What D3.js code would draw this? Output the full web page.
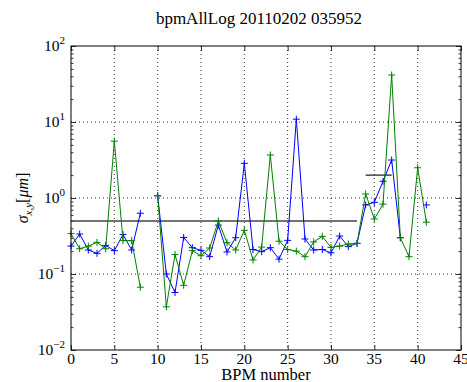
<!DOCTYPE html>
<html>
<head>
<meta charset="utf-8">
<script src="https://cdn.jsdelivr.net/npm/d3@7"></script>
<style>
  body { margin: 0; background: #fff; }
</style>
</head>
<body>
<div id="chart"></div>
<script>
// BPM index 0..41, null where there is no reading
var bpm = d3.range(0, 42);

var sigmaX = [0.233, 0.336, 0.207, 0.187, 0.238, 0.203, 0.33, 0.207, 0.63, null,
  1.07, 0.10, 0.057, 0.303, 0.222, 0.205, 0.169, 0.44, 0.195, 0.30,
  2.86, 0.21, 0.197, 0.222, 0.157, 0.277, 10.9, 0.289, 0.207, 0.21,
  0.19, 0.316, 0.229, 0.253, 0.81, 0.877, 1.66, 3.16, 0.30, null,
  null, 0.81];

var sigmaY = [0.34, 0.215, 0.233, 0.261, 0.215, 5.6, 0.275, 0.275, 0.067, null,
  1.07, 0.037, 0.18, 0.071, 0.203, 0.174, 0.22, 0.50, 0.258, 0.207,
  0.376, 0.153, 0.226, 3.68, 0.27, 0.21, 0.2, 0.169, 0.264, 0.313,
  0.224, 0.233, 0.248, 0.253, 1.13, 0.53, 0.83, 41.5, 0.30, 0.169,
  2.5, 0.48];

// reference levels: [x start, x end, value]
var limits = [[0, 33, 0.5], [34, 37, 2.0]];

var xTicks = d3.range(0, 50, 5);
var yTicks = [-2, -1, 0, 1, 2];

var serif = "'Liberation Serif', 'Times New Roman', 'DejaVu Serif', serif";

var svgWidth = 467;
var svgHeight = 382;
var margin = { top: 46, right: 6, bottom: 32, left: 71 };
var width = svgWidth - margin.left - margin.right;
var height = svgHeight - margin.top - margin.bottom;

var svg = d3.select("#chart").append("svg")
  .attr("width", svgWidth)
  .attr("height", svgHeight)
  .attr("font-family", serif);

var g = svg.append("g")
  .attr("transform", `translate(${margin.left}, ${margin.top})`);

var x = d3.scaleLinear().domain([0, 45]).range([0, width]);
var y = d3.scaleLog().domain([0.01, 100]).range([height, 0]);

// grid
g.append("g").selectAll("line")
  .data(xTicks.slice(1, -1))
  .enter().append("line")
  .attr("x1", d => x(d)).attr("x2", d => x(d))
  .attr("y1", 0).attr("y2", height)
  .attr("stroke", "#000").attr("stroke-width", 0.8)
  .attr("stroke-dasharray", "1,3");

g.append("g").selectAll("line")
  .data(yTicks.slice(1, -1))
  .enter().append("line")
  .attr("x1", 0).attr("x2", width)
  .attr("y1", d => y(Math.pow(10, d))).attr("y2", d => y(Math.pow(10, d)))
  .attr("stroke", "#000").attr("stroke-width", 0.8)
  .attr("stroke-dasharray", "1,3");

// ticks inside, on all four sides
var minor = [];
for (var e = -2; e < 2; e++) {
  for (var m = 2; m < 10; m++) minor.push(m * Math.pow(10, e));
}

function tickAxis(axis, size, vals) {
  return axis.tickValues(vals).tickSize(-size).tickFormat("");
}

g.append("g").attr("transform", `translate(0, ${height})`)
  .call(tickAxis(d3.axisBottom(x), 5, xTicks));
g.append("g")
  .call(tickAxis(d3.axisTop(x), 5, xTicks));
g.append("g")
  .call(tickAxis(d3.axisLeft(y), 5, yTicks.map(d => Math.pow(10, d))));
g.append("g")
  .call(tickAxis(d3.axisLeft(y), 2.5, minor));
g.append("g").attr("transform", `translate(${width}, 0)`)
  .call(tickAxis(d3.axisRight(y), 5, yTicks.map(d => Math.pow(10, d))));
g.append("g").attr("transform", `translate(${width}, 0)`)
  .call(tickAxis(d3.axisRight(y), 2.5, minor));
g.selectAll(".domain").remove();
g.selectAll(".tick line").attr("stroke", "#000").attr("stroke-width", 0.8);

// limit lines
g.selectAll(".limit")
  .data(limits)
  .enter().append("line")
  .attr("x1", d => x(d[0])).attr("x2", d => x(d[1]))
  .attr("y1", d => y(d[2])).attr("y2", d => y(d[2]))
  .attr("stroke", "#444").attr("stroke-width", 1.5);

// series
var series = [
  { vals: sigmaX, color: "#0000ff" },
  { vals: sigmaY, color: "#008000" }
];

var line = d3.line()
  .defined(d => d[1] != null)
  .x(d => x(d[0]))
  .y(d => y(d[1]));

series.forEach(function(s) {
  var pts = bpm.map((b, i) => [b, s.vals[i]]);
  g.append("path")
    .datum(pts)
    .attr("d", line)
    .attr("fill", "none")
    .attr("stroke", s.color)
    .attr("stroke-width", 1);
  g.append("g").selectAll("path")
    .data(pts.filter(d => d[1] != null))
    .enter().append("path")
    .attr("d", d => {
      var px = x(d[0]), py = y(d[1]);
      return `M${px - 3.5},${py}H${px + 3.5}M${px},${py - 3.5}V${py + 3.5}`;
    })
    .attr("stroke", s.color)
    .attr("stroke-width", 1);
});

// frame
g.append("rect")
  .attr("width", width).attr("height", height)
  .attr("fill", "none").attr("stroke", "#000").attr("stroke-width", 1);

// tick labels
g.append("g").selectAll("text")
  .data(xTicks)
  .enter().append("text")
  .attr("x", d => x(d))
  .attr("y", height + 14)
  .attr("text-anchor", "middle")
  .attr("font-size", 15.5)
  .text(d => d);

var yLab = g.append("g").selectAll("text")
  .data(yTicks)
  .enter().append("text")
  .attr("x", -6)
  .attr("y", d => y(Math.pow(10, d)) + 5)
  .attr("text-anchor", "end")
  .attr("font-size", 15.5);
yLab.append("tspan").text("10");
yLab.append("tspan")
  .attr("dy", -7)
  .attr("font-size", 11)
  .text(d => d < 0 ? "\u2212" + (-d) : d);

// axis titles
svg.append("text")
  .attr("x", margin.left + width / 2)
  .attr("y", 380)
  .attr("text-anchor", "middle")
  .attr("font-size", 16.5)
  .text("BPM number");

var yt = svg.append("text")
  .attr("transform", `translate(28, ${margin.top + height / 2}) rotate(-90)`)
  .attr("text-anchor", "middle")
  .attr("font-size", 16);
yt.append("tspan").attr("font-style", "italic").text("\u03c3");
yt.append("tspan").attr("dy", 4).attr("font-size", 11).attr("font-style", "italic").text("x,y");
yt.append("tspan").attr("dy", -4).text("[");
yt.append("tspan").attr("font-style", "italic").text("\u03bcm");
yt.append("tspan").text("]");

svg.append("text")
  .attr("x", margin.left + width / 2 - 7)
  .attr("y", 24)
  .attr("text-anchor", "middle")
  .attr("font-size", 17)
  .text("bpmAllLog 20110202 035952");
</script>
</body>
</html>
